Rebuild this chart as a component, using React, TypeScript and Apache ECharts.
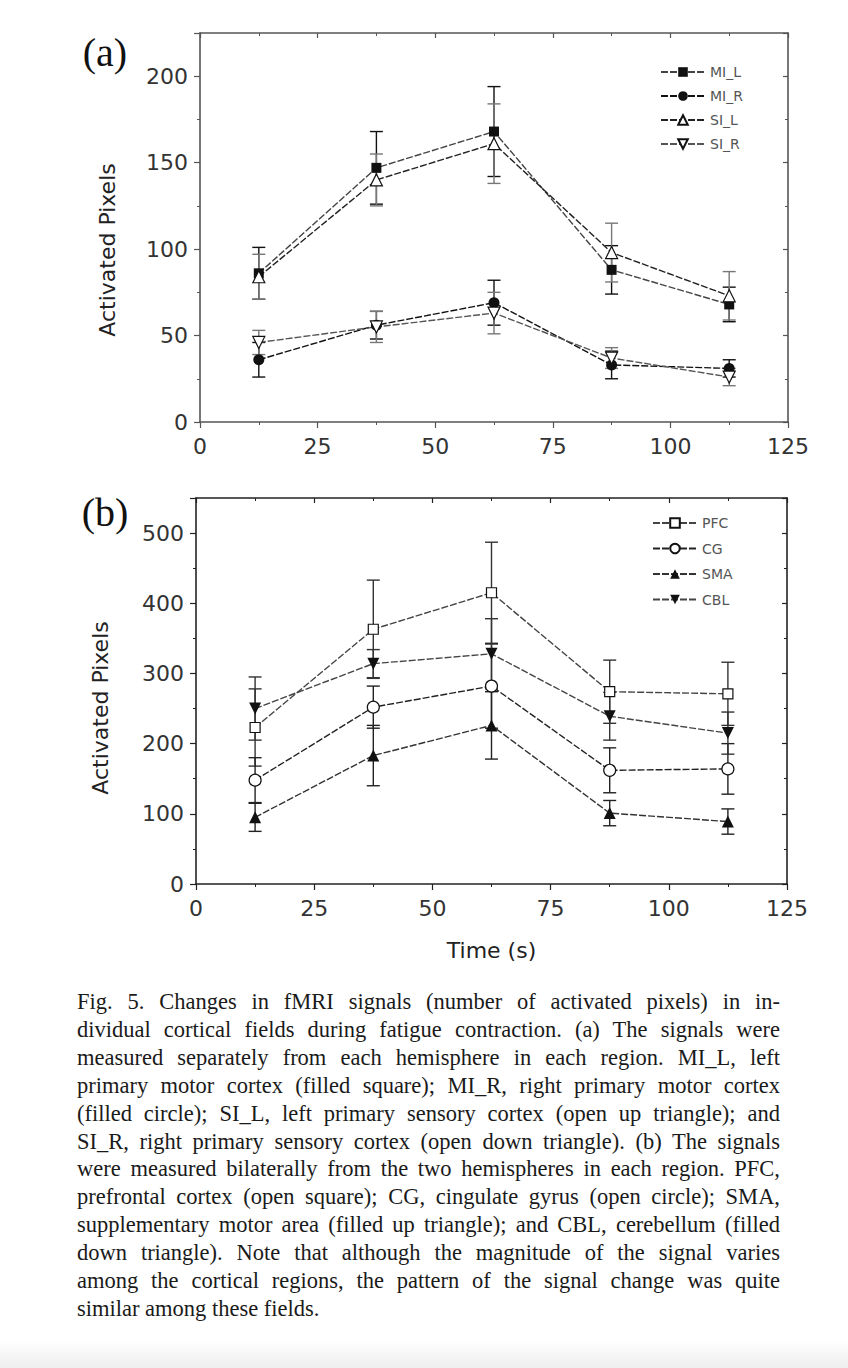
import React, { useEffect, useRef } from "react";
import * as echarts from "echarts";

// ---------- data ----------
const timePoints = [12.5, 37.5, 62.5, 87.5, 112.5];

// panel (a)
const miL = [86, 147, 168, 88, 68];
const miLErr = [15, 21, 26, 14, 10];
const miR = [36, 56, 69, 33, 31];
const miRErr = [10, 8, 13, 8, 5];
const siL = [84, 140, 161, 98, 73];
const siLErr = [13, 15, 23, 17, 14];
const siR = [46, 55, 63, 37, 26];
const siRErr = [7, 9, 12, 6, 5];

// panel (b)
const pfc = [223, 363, 415, 274, 271];
const pfcErr = [55, 70, 72, 45, 45];
const cg = [148, 252, 282, 162, 164];
const cgErr = [32, 30, 60, 32, 36];
const sma = [95, 183, 226, 101, 89];
const smaErr = [20, 43, 48, 18, 18];
const cbl = [250, 314, 328, 239, 215];
const cblErr = [45, 20, 50, 34, 30];

const legendA = ["MI_L", "MI_R", "SI_L", "SI_R"];
const legendB = ["PFC", "CG", "SMA", "CBL"];

const captionLines = [
  "Fig. 5. Changes in fMRI signals (number of activated pixels) in in-",
  "dividual cortical fields during fatigue contraction. (a) The signals were",
  "measured separately from each hemisphere in each region. MI_L, left",
  "primary motor cortex (filled square); MI_R, right primary motor cortex",
  "(filled circle); SI_L, left primary sensory cortex (open up triangle); and",
  "SI_R, right primary sensory cortex (open down triangle). (b) The signals",
  "were measured bilaterally from the two hemispheres in each region. PFC,",
  "prefrontal cortex (open square); CG, cingulate gyrus (open circle); SMA,",
  "supplementary motor area (filled up triangle); and CBL, cerebellum (filled",
  "down triangle). Note that although the magnitude of the signal varies",
  "among the cortical regions, the pattern of the signal change was quite",
  "similar among these fields.",
];

const SANS = "DejaVu Sans";

function errSeries(vals: number[], errs: number[], color: string, gi: number) {
  return {
    type: "custom",
    xAxisIndex: gi * 2,
    yAxisIndex: gi * 2,
    silent: true,
    z: 1,
    encode: { x: 0, y: [1, 2] },
    data: timePoints.map((x, i) => [x, vals[i] - errs[i], vals[i] + errs[i]]),
    renderItem: (params: any, api: any) => {
      const x = api.value(0);
      const lo = api.coord([x, api.value(1)]);
      const hi = api.coord([x, api.value(2)]);
      const w = 6.5;
      const style = { stroke: color, lineWidth: 1.4 };
      return {
        type: "group",
        children: [
          { type: "line", shape: { x1: lo[0], y1: lo[1], x2: hi[0], y2: hi[1] }, style },
          { type: "line", shape: { x1: lo[0] - w, y1: lo[1], x2: lo[0] + w, y2: lo[1] }, style },
          { type: "line", shape: { x1: hi[0] - w, y1: hi[1], x2: hi[0] + w, y2: hi[1] }, style },
        ],
      };
    },
  };
}

function lineSeries(
  name: string,
  vals: number[],
  gi: number,
  symbol: string,
  size: number,
  filled: boolean,
  lineColor: string,
  rotate = 0
) {
  return {
    name,
    type: "line",
    xAxisIndex: gi * 2,
    yAxisIndex: gi * 2,
    z: 3,
    data: timePoints.map((x, i) => [x, vals[i]]),
    symbol,
    symbolSize: size,
    symbolRotate: rotate,
    lineStyle: { color: lineColor, width: 1.4, type: [7, 2] },
    itemStyle: {
      color: filled ? "#111" : "#fff",
      borderColor: "#111",
      borderWidth: filled ? 0 : 1.2,
    },
  };
}

function xAxes(gi: number, color: string, name?: string) {
  const base = {
    gridIndex: gi,
    type: "value",
    min: 0,
    max: 125,
    interval: 25,
    splitLine: { show: false },
    axisLine: { onZero: false, lineStyle: { color, width: 1.6 } },
    minorTick: { show: true, splitNumber: 2, length: 3, lineStyle: { color } },
  };
  return [
    {
      ...base,
      position: "bottom",
      axisTick: { inside: false, length: 6, lineStyle: { color, width: 1.2 } },
      axisLabel: { fontFamily: SANS, fontSize: 22, color: "#333", margin: 13 },
      name: name || "",
      nameLocation: "middle",
      nameGap: 55,
      nameTextStyle: { fontFamily: SANS, fontSize: 22, color: "#222" },
    },
    {
      ...base,
      position: "top",
      axisTick: { inside: true, length: 5, lineStyle: { color, width: 1.2 } },
      axisLabel: { show: false },
    },
  ];
}

function yAxes(gi: number, color: string, max: number, interval: number) {
  const base = {
    gridIndex: gi,
    type: "value",
    min: 0,
    max,
    interval,
    splitLine: { show: false },
    axisLine: { onZero: false, lineStyle: { color, width: 1.6 } },
    minorTick: { show: true, splitNumber: 2, length: 3, lineStyle: { color } },
  };
  return [
    {
      ...base,
      position: "left",
      axisTick: { inside: false, length: 6, lineStyle: { color, width: 1.2 } },
      axisLabel: {
        fontFamily: SANS,
        fontSize: 22,
        color: "#333",
        margin: 12,
        formatter: (v: number) => (v % interval === 0 ? String(v) : ""),
      },
    },
    {
      ...base,
      position: "right",
      axisTick: { inside: true, length: 5, lineStyle: { color, width: 1.2 } },
      axisLabel: { show: false },
    },
  ];
}

export default function App() {
  const ref = useRef<HTMLDivElement>(null);

  useEffect(() => {
    if (!ref.current) return;
    const chart = echarts.init(ref.current, null, { renderer: "svg" });
    const option: any = {
      animation: false,
      backgroundColor: "#fff",
      grid: [
        { left: 200, top: 33, width: 588, height: 389 },
        { left: 196, top: 498, width: 591, height: 386 },
      ],
      xAxis: [...xAxes(0, "#555"), ...xAxes(1, "#222", "Time (s)")],
      yAxis: [...yAxes(0, "#555", 225, 50), ...yAxes(1, "#222", 550, 100)],
      legend: [
        {
          data: legendA,
          orient: "vertical",
          left: 660,
          top: 65,
          padding: 0,
          itemWidth: 44,
          itemHeight: 12,
          itemGap: 10,
          textStyle: { fontFamily: SANS, fontSize: 14, color: "#555" },
        },
        {
          data: legendB,
          orient: "vertical",
          left: 652,
          top: 516,
          padding: 0,
          itemWidth: 44,
          itemHeight: 12,
          itemGap: 11.5,
          textStyle: { fontFamily: SANS, fontSize: 14, color: "#555" },
        },
      ],
      graphic: [
        {
          type: "text",
          x: 105,
          y: 52,
          style: {
            text: "(a)",
            fontFamily: "Liberation Serif",
            fontSize: 40,
            fill: "#111",
            align: "center",
            verticalAlign: "middle",
          },
        },
        {
          type: "text",
          x: 105,
          y: 512,
          style: {
            text: "(b)",
            fontFamily: "Liberation Serif",
            fontSize: 40,
            fill: "#111",
            align: "center",
            verticalAlign: "middle",
          },
        },
        {
          type: "text",
          x: 107,
          y: 250,
          rotation: Math.PI / 2,
          style: {
            text: "Activated Pixels",
            fontFamily: SANS,
            fontSize: 22,
            fill: "#222",
            align: "center",
            verticalAlign: "middle",
          },
        },
        {
          type: "text",
          x: 100,
          y: 708,
          rotation: Math.PI / 2,
          style: {
            text: "Activated Pixels",
            fontFamily: SANS,
            fontSize: 22,
            fill: "#222",
            align: "center",
            verticalAlign: "middle",
          },
        },
      ],
      series: [
        errSeries(miL, miLErr, "#111", 0),
        errSeries(miR, miRErr, "#111", 0),
        errSeries(siL, siLErr, "#777", 0),
        errSeries(siR, siRErr, "#777", 0),
        lineSeries("MI_L", miL, 0, "rect", 10, true, "#444"),
        lineSeries("MI_R", miR, 0, "circle", 11, true, "#111"),
        lineSeries("SI_L", siL, 0, "triangle", 12, false, "#222"),
        lineSeries("SI_R", siR, 0, "triangle", 12, false, "#555", 180),
        errSeries(pfc, pfcErr, "#333", 1),
        errSeries(cg, cgErr, "#222", 1),
        errSeries(sma, smaErr, "#222", 1),
        errSeries(cbl, cblErr, "#333", 1),
        lineSeries("PFC", pfc, 1, "rect", 10, false, "#444"),
        lineSeries("CG", cg, 1, "circle", 12, false, "#222"),
        lineSeries("SMA", sma, 1, "triangle", 12, true, "#333"),
        lineSeries("CBL", cbl, 1, "triangle", 12, true, "#444", 180),
      ],
    };
    chart.setOption(option);
    return () => chart.dispose();
  }, []);

  return (
    <div
      style={{
        position: "fixed",
        left: 0,
        top: 0,
        width: 848,
        height: 1368,
        background: "#fff",
        overflow: "hidden",
      }}
    >
      <div ref={ref} style={{ position: "absolute", left: 0, top: 0, width: 848, height: 985 }} />
      <div
        style={{
          position: "absolute",
          left: 77,
          top: 988,
          width: 703,
          fontFamily: "'Liberation Serif', serif",
          fontSize: 22.5,
          lineHeight: "27.9px",
          color: "#1a1a1a",
        }}
      >
        {captionLines.map((line, i) => (
          <div
            key={i}
            style={{
              textAlign: i === captionLines.length - 1 ? "left" : "justify",
              textAlignLast: i === captionLines.length - 1 ? "left" : "justify",
              whiteSpace: "nowrap",
            }}
          >
            {line}
          </div>
        ))}
      </div>
      <div
        style={{
          position: "absolute",
          left: 0,
          top: 1340,
          width: 848,
          height: 28,
          background: "linear-gradient(#ffffff, #eeeeee)",
        }}
      />
    </div>
  );
}
